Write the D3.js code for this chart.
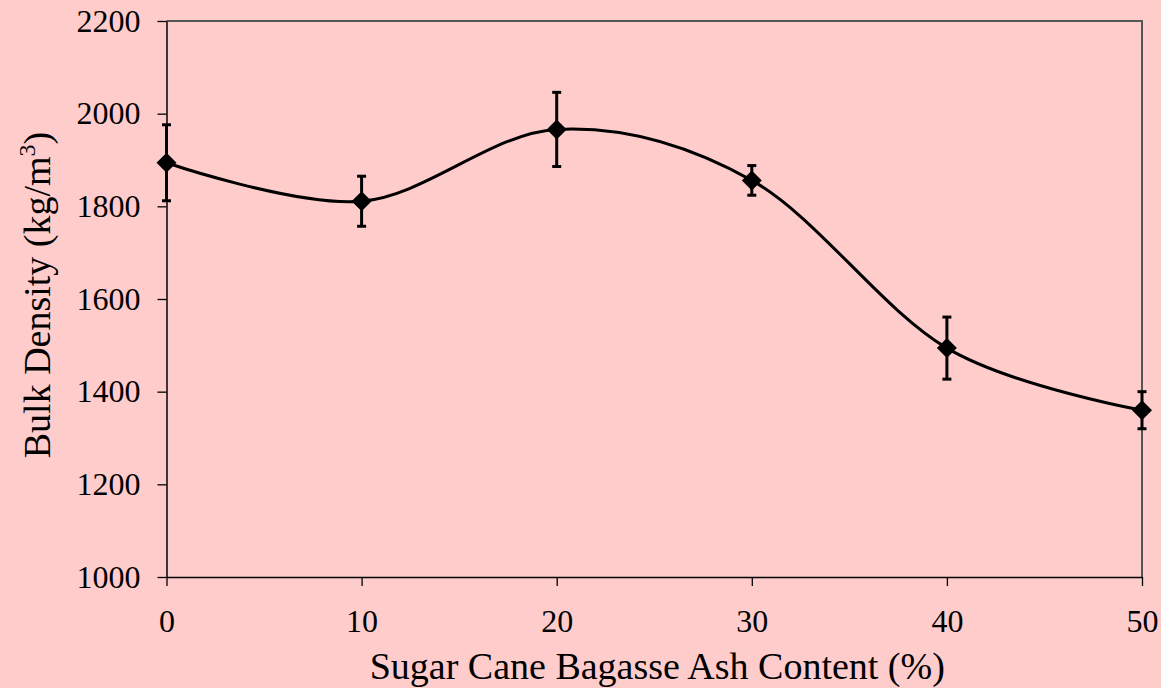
<html>
<head>
<meta charset="utf-8">
<script src="https://d3js.org/d3.v7.min.js"></script>
<style>
  body { margin: 0; background: #ffcccc; }
  svg { display: block; font-family: "Liberation Serif", "Times New Roman", serif; }
</style>
</head>
<body>
<svg id="chart" width="1161" height="688"></svg>
<script>
// data
const ashContent = [0, 10, 20, 30, 40, 50];
const bulkDensity = [1894, 1811, 1966, 1856, 1494, 1360];
const errorBars = [82, 54, 80, 32, 67, 40];
const yTicks = [1000, 1200, 1400, 1600, 1800, 2000, 2200];
const xTicks = [0, 10, 20, 30, 40, 50];

const width = 1161, height = 688;
const margin = {top: 21, right: 19, bottom: 111, left: 166.5};

const svg = d3.select("#chart");
svg.append("rect").attr("width", width).attr("height", height).attr("fill", "#ffcccc");

const x = d3.scaleLinear().domain([0, 50]).range([margin.left, width - margin.right]);
const y = d3.scaleLinear().domain([1000, 2200]).range([height - margin.bottom, margin.top]);

// plot area border (top + right)
svg.append("path")
    .attr("d", `M${x(0)},${y(2200)}H${x(50)}V${y(1000)}`)
    .attr("fill", "none")
    .attr("stroke", "#555")
    .attr("stroke-width", 2);

// y axis
const yAxis = svg.append("g")
    .attr("transform", `translate(${x(0)},0)`)
    .call(d3.axisLeft(y).tickValues(yTicks).tickFormat(d3.format("d"))
        .tickSize(9).tickPadding(17).tickSizeOuter(0));
yAxis.attr("font-family", "Liberation Serif");
yAxis.select(".domain").attr("stroke", "#000").attr("stroke-width", 1.5);
yAxis.selectAll(".tick line").attr("stroke", "#000").attr("stroke-width", 1.3);
yAxis.selectAll("text").attr("font-size", 32).attr("fill", "#000");

// x axis
const xAxis = svg.append("g")
    .attr("transform", `translate(0,${y(1000)})`)
    .call(d3.axisBottom(x).tickValues(xTicks).tickFormat(d3.format("d"))
        .tickSize(9).tickPadding(23).tickSizeOuter(0));
xAxis.attr("font-family", "Liberation Serif");
xAxis.select(".domain").attr("stroke", "#000").attr("stroke-width", 1.5);
xAxis.selectAll(".tick line").attr("stroke", "#000").attr("stroke-width", 1.3);
xAxis.selectAll("text").attr("font-size", 32).attr("fill", "#000");

// axis titles
svg.append("text")
    .attr("x", (x(0) + x(50)) / 2 + 3)
    .attr("y", 679)
    .attr("text-anchor", "middle")
    .attr("font-size", 38)
    .text("Sugar Cane Bagasse Ash Content (%)");

const yTitle = svg.append("text")
    .attr("transform", `translate(50,${(y(1000) + y(2200)) / 2 - 4}) rotate(-90)`)
    .attr("text-anchor", "middle")
    .attr("font-size", 38);
yTitle.append("tspan").text("Bulk Density (kg/m");
yTitle.append("tspan").attr("font-size", 24).attr("dy", -15).text("3");
yTitle.append("tspan").attr("dy", 15).text(")");

const pts = ashContent.map((a, i) => ({a, v: bulkDensity[i], e: errorBars[i]}));

// smoothed line
const line = d3.line()
    .x(d => x(d.a))
    .y(d => y(d.v))
    .curve(d3.curveCardinal.tension(0));
svg.append("path")
    .datum(pts)
    .attr("d", line)
    .attr("fill", "none")
    .attr("stroke", "#000")
    .attr("stroke-width", 3);

// error bars
const eb = svg.append("g").attr("stroke", "#000").attr("stroke-width", 3);
pts.forEach(d => {
  eb.append("line")
      .attr("x1", x(d.a)).attr("x2", x(d.a))
      .attr("y1", y(d.v - d.e)).attr("y2", y(d.v + d.e));
  [d.v - d.e, d.v + d.e].forEach(val => {
    eb.append("line")
        .attr("x1", x(d.a) - 4.5).attr("x2", x(d.a) + 4.5)
        .attr("y1", y(val)).attr("y2", y(val));
  });
});

// diamond markers
const sym = d3.symbol().type(d3.symbolSquare).size(200);
svg.append("g").selectAll("path")
    .data(pts)
    .join("path")
    .attr("d", sym)
    .attr("transform", d => `translate(${x(d.a)},${y(d.v)}) rotate(45)`)
    .attr("fill", "#000");
</script>
</body>
</html>
